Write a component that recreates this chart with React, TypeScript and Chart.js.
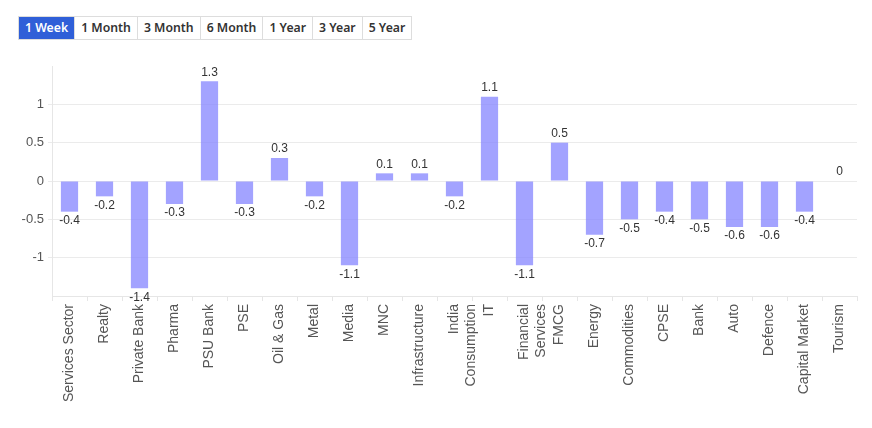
import React, { useEffect, useRef } from "react";
import { Chart, registerables } from "chart.js";

Chart.register(...registerables);

const categories: (string | string[])[] = [
  "Services Sector", "Realty", "Private Bank", "Pharma", "PSU Bank", "PSE", "Oil & Gas",
  "Metal", "Media", "MNC", "Infrastructure", ["India", "Consumption"], "IT",
  ["Financial", "Services"], "FMCG", "Energy", "Commodities", "CPSE", "Bank", "Auto",
  "Defence", "Capital Market", "Tourism",
];
const values: number[] = [
  -0.4, -0.2, -1.4, -0.3, 1.3, -0.3, 0.3, -0.2, -1.1, 0.1, 0.1, -0.2, 1.1,
  -1.1, 0.5, -0.7, -0.5, -0.4, -0.5, -0.6, -0.6, -0.4, 0,
];
const yTicks: number[] = [-1, -0.5, 0, 0.5, 1];
const periods: string[] = ["1 Week", "1 Month", "3 Month", "6 Month", "1 Year", "3 Year", "5 Year"];

const labelPlugin = {
  id: "barLabels",
  afterDatasetsDraw(chart: any) {
    const ctx = chart.ctx;
    const meta = chart.getDatasetMeta(0);
    ctx.save();
    ctx.font = "12px 'Liberation Sans', Arial, sans-serif";
    ctx.fillStyle = "#333";
    ctx.textAlign = "center";
    meta.data.forEach((bar: any, i: number) => {
      const v = values[i];
      if (v >= 0) {
        ctx.textBaseline = "bottom";
        ctx.fillText(String(v), bar.x, bar.y - 3);
      } else {
        ctx.textBaseline = "top";
        ctx.fillText(String(v), bar.x, bar.y + 3);
      }
    });
    ctx.restore();
  },
};

export default function App() {
  const ref = useRef<HTMLCanvasElement>(null);
  useEffect(() => {
    const chart = new Chart(ref.current!, {
      type: "bar",
      data: {
        labels: categories,
        datasets: [
          {
            data: values,
            backgroundColor: "rgba(128,128,255,0.72)",
            borderWidth: 0,
            barPercentage: 0.6,
            categoryPercentage: 0.82,
          },
        ],
      },
      plugins: [labelPlugin],
      options: {
        animation: false,
        responsive: false,
        layout: { padding: { top: 16, right: 7, left: 0, bottom: 0 } },
        plugins: { legend: { display: false }, tooltip: { enabled: false } },
        scales: {
          x: {
            grid: { drawOnChartArea: false, color: "#e6e6e6", tickLength: 5 },
            border: { color: "#e6e6e6" },
            ticks: {
              autoSkip: false,
              maxRotation: 90,
              minRotation: 90,
              color: "#555",
              font: { family: "'Liberation Sans', Arial, sans-serif", size: 14 },
            },
            afterFit: (s: any) => { s.height = 120; },
          },
          y: {
            min: -1.5,
            max: 1.5,
            afterBuildTicks: (s: any) => { s.ticks = yTicks.map((v) => ({ value: v })); },
            grid: { color: "#ebebeb", tickLength: 4 },
            border: { color: "#e6e6e6" },
            ticks: {
              color: "#555",
              padding: 4,
              callback: (v: any) => String(v),
              font: { family: "'Liberation Sans', Arial, sans-serif", size: 13 },
            },
            afterFit: (s: any) => { s.width = 44; },
          },
        },
      },
    });
    return () => chart.destroy();
  }, []);

  return (
    <div style={{ width: 856 }}>
      <div style={{ display: "flex", marginLeft: 10, marginTop: 8, height: 24 }}>
        {periods.map((p, i) => (
          <div
            key={p}
            style={{
              fontFamily: "'Noto Sans', sans-serif",
              fontSize: 12.25,
              fontWeight: 600,
              padding: "0 6px",
              lineHeight: "22px",
              border: "1px solid #ddd",
              borderLeft: i === 0 ? "1px solid #ddd" : "none",
              background: i === 0 ? "#2f5fd8" : "#fff",
              color: i === 0 ? "#fff" : "#333",
              whiteSpace: "nowrap",
            }}
          >
            {p}
          </div>
        ))}
      </div>
      <canvas ref={ref} width={856} height={366} style={{ display: "block", marginTop: 10 }} />
    </div>
  );
}
